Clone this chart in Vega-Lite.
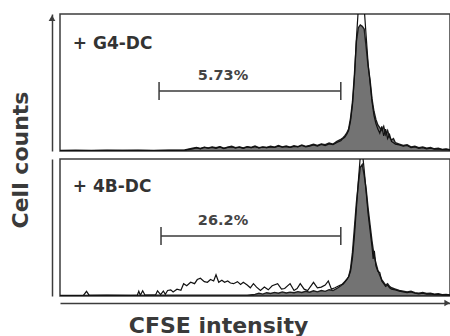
{
  "$schema": "https://vega.github.io/schema/vega-lite/v6.json",
  "background": "#ffffff",
  "padding": {"left": 9, "top": 13, "right": 0, "bottom": 0},
  "bounds": "flush",
  "data": {"values": [
    {"panel":1,"kind":"F","x":0,"count":0.4},{"panel":1,"kind":"F","x":4,"count":0.5},{"panel":1,"kind":"F","x":8,"count":0.4},{"panel":1,"kind":"F","x":12,"count":0.5},{"panel":1,"kind":"F","x":16,"count":0.4},{"panel":1,"kind":"F","x":20,"count":0.5},{"panel":1,"kind":"F","x":24,"count":0.4},{"panel":1,"kind":"F","x":28,"count":0.5},{"panel":1,"kind":"F","x":32,"count":0.8},
    {"panel":1,"kind":"F","x":34,"count":2.0},{"panel":1,"kind":"F","x":35,"count":2.6},{"panel":1,"kind":"F","x":36,"count":1.8},{"panel":1,"kind":"F","x":37,"count":2.8},{"panel":1,"kind":"F","x":38,"count":2.2},{"panel":1,"kind":"F","x":39,"count":3.0},{"panel":1,"kind":"F","x":40,"count":2.4},{"panel":1,"kind":"F","x":41,"count":3.2},{"panel":1,"kind":"F","x":42,"count":2.0},{"panel":1,"kind":"F","x":43,"count":2.8},{"panel":1,"kind":"F","x":44,"count":3.4},{"panel":1,"kind":"F","x":45,"count":2.4},{"panel":1,"kind":"F","x":46,"count":3.0},{"panel":1,"kind":"F","x":47,"count":2.2},{"panel":1,"kind":"F","x":48,"count":3.2},{"panel":1,"kind":"F","x":49,"count":2.6},{"panel":1,"kind":"F","x":50,"count":3.6},{"panel":1,"kind":"F","x":51,"count":2.4},{"panel":1,"kind":"F","x":52,"count":3.0},{"panel":1,"kind":"F","x":53,"count":2.6},{"panel":1,"kind":"F","x":54,"count":3.4},{"panel":1,"kind":"F","x":55,"count":2.8},{"panel":1,"kind":"F","x":56,"count":4.0},{"panel":1,"kind":"F","x":57,"count":3.0},{"panel":1,"kind":"F","x":58,"count":3.6},{"panel":1,"kind":"F","x":59,"count":2.8},{"panel":1,"kind":"F","x":60,"count":3.8},{"panel":1,"kind":"F","x":61,"count":3.2},{"panel":1,"kind":"F","x":62,"count":4.4},{"panel":1,"kind":"F","x":63,"count":3.4},{"panel":1,"kind":"F","x":64,"count":4.0},{"panel":1,"kind":"F","x":65,"count":5.0},{"panel":1,"kind":"F","x":66,"count":4.0},{"panel":1,"kind":"F","x":67,"count":5.2},{"panel":1,"kind":"F","x":68,"count":4.6},{"panel":1,"kind":"F","x":69,"count":5.8},{"panel":1,"kind":"F","x":70,"count":5.0},{"panel":1,"kind":"F","x":71,"count":7.0},{"panel":1,"kind":"F","x":72,"count":8.5},{"panel":1,"kind":"F","x":72.5,"count":9.5},{"panel":1,"kind":"F","x":73,"count":11},{"panel":1,"kind":"F","x":73.5,"count":13},{"panel":1,"kind":"F","x":74,"count":16},{"panel":1,"kind":"F","x":74.5,"count":24},{"panel":1,"kind":"F","x":75,"count":36},{"panel":1,"kind":"F","x":75.5,"count":56},{"panel":1,"kind":"F","x":76,"count":80},{"panel":1,"kind":"F","x":76.5,"count":90},{"panel":1,"kind":"F","x":77,"count":92},{"panel":1,"kind":"F","x":77.5,"count":91},{"panel":1,"kind":"F","x":78,"count":89},{"panel":1,"kind":"F","x":78.5,"count":76},{"panel":1,"kind":"F","x":79,"count":62},{"panel":1,"kind":"F","x":79.5,"count":52},{"panel":1,"kind":"F","x":80,"count":38},{"panel":1,"kind":"F","x":80.5,"count":29},{"panel":1,"kind":"F","x":81,"count":23},{"panel":1,"kind":"F","x":81.5,"count":19},{"panel":1,"kind":"F","x":82,"count":17},{"panel":1,"kind":"F","x":82.5,"count":15},{"panel":1,"kind":"F","x":83,"count":18},{"panel":1,"kind":"F","x":83.5,"count":12},{"panel":1,"kind":"F","x":84,"count":15},{"panel":1,"kind":"F","x":84.5,"count":10},{"panel":1,"kind":"F","x":85,"count":8},{"panel":1,"kind":"F","x":85.5,"count":9},{"panel":1,"kind":"F","x":86,"count":6},{"panel":1,"kind":"F","x":87,"count":5},{"panel":1,"kind":"F","x":88,"count":4},{"panel":1,"kind":"F","x":89,"count":4.5},{"panel":1,"kind":"F","x":90,"count":3},{"panel":1,"kind":"F","x":91,"count":3.5},{"panel":1,"kind":"F","x":92,"count":2.5},{"panel":1,"kind":"F","x":93,"count":3},{"panel":1,"kind":"F","x":94,"count":2},{"panel":1,"kind":"F","x":95,"count":2.5},{"panel":1,"kind":"F","x":96,"count":1.6},{"panel":1,"kind":"F","x":97,"count":2},{"panel":1,"kind":"F","x":98,"count":1.2},{"panel":1,"kind":"F","x":99,"count":1.5},{"panel":1,"kind":"F","x":100,"count":1},

    {"panel":1,"kind":"O","x":0,"count":0.3},{"panel":1,"kind":"O","x":8,"count":0.3},{"panel":1,"kind":"O","x":16,"count":0.4},{"panel":1,"kind":"O","x":24,"count":0.3},{"panel":1,"kind":"O","x":32,"count":0.6},{"panel":1,"kind":"O","x":34,"count":1.6},{"panel":1,"kind":"O","x":35,"count":2.2},{"panel":1,"kind":"O","x":36,"count":1.6},{"panel":1,"kind":"O","x":37,"count":2.6},{"panel":1,"kind":"O","x":38,"count":2.0},{"panel":1,"kind":"O","x":39,"count":2.6},{"panel":1,"kind":"O","x":40,"count":2.0},{"panel":1,"kind":"O","x":41,"count":3.0},{"panel":1,"kind":"O","x":42,"count":1.8},{"panel":1,"kind":"O","x":43,"count":2.6},{"panel":1,"kind":"O","x":44,"count":3.0},{"panel":1,"kind":"O","x":45,"count":2.2},{"panel":1,"kind":"O","x":46,"count":2.8},{"panel":1,"kind":"O","x":47,"count":2.0},{"panel":1,"kind":"O","x":48,"count":3.0},{"panel":1,"kind":"O","x":49,"count":2.4},{"panel":1,"kind":"O","x":50,"count":3.2},{"panel":1,"kind":"O","x":51,"count":2.2},{"panel":1,"kind":"O","x":52,"count":2.8},{"panel":1,"kind":"O","x":53,"count":2.4},{"panel":1,"kind":"O","x":54,"count":3.0},{"panel":1,"kind":"O","x":55,"count":2.6},{"panel":1,"kind":"O","x":56,"count":3.6},{"panel":1,"kind":"O","x":57,"count":2.8},{"panel":1,"kind":"O","x":58,"count":3.2},{"panel":1,"kind":"O","x":59,"count":2.6},{"panel":1,"kind":"O","x":60,"count":3.4},{"panel":1,"kind":"O","x":61,"count":3.0},{"panel":1,"kind":"O","x":62,"count":4.0},{"panel":1,"kind":"O","x":63,"count":3.0},{"panel":1,"kind":"O","x":64,"count":3.6},{"panel":1,"kind":"O","x":65,"count":4.4},{"panel":1,"kind":"O","x":66,"count":3.6},{"panel":1,"kind":"O","x":67,"count":4.8},{"panel":1,"kind":"O","x":68,"count":4.0},{"panel":1,"kind":"O","x":69,"count":5.2},{"panel":1,"kind":"O","x":70,"count":4.6},{"panel":1,"kind":"O","x":71,"count":6.2},{"panel":1,"kind":"O","x":72,"count":7.5},{"panel":1,"kind":"O","x":72.5,"count":9},{"panel":1,"kind":"O","x":73,"count":10},{"panel":1,"kind":"O","x":73.5,"count":12},{"panel":1,"kind":"O","x":74,"count":15},{"panel":1,"kind":"O","x":74.5,"count":22},{"panel":1,"kind":"O","x":75,"count":34},{"panel":1,"kind":"O","x":75.5,"count":54},{"panel":1,"kind":"O","x":76,"count":82},{"panel":1,"kind":"O","x":76.5,"count":104},{"panel":1,"kind":"O","x":77,"count":112},{"panel":1,"kind":"O","x":77.5,"count":110},{"panel":1,"kind":"O","x":78,"count":104},{"panel":1,"kind":"O","x":78.5,"count":84},{"panel":1,"kind":"O","x":79,"count":64},{"panel":1,"kind":"O","x":79.5,"count":50},{"panel":1,"kind":"O","x":80,"count":36},{"panel":1,"kind":"O","x":80.5,"count":26},{"panel":1,"kind":"O","x":81,"count":20},{"panel":1,"kind":"O","x":81.5,"count":16},{"panel":1,"kind":"O","x":82,"count":13},{"panel":1,"kind":"O","x":82.5,"count":18},{"panel":1,"kind":"O","x":83,"count":11},{"panel":1,"kind":"O","x":83.5,"count":16},{"panel":1,"kind":"O","x":84,"count":9},{"panel":1,"kind":"O","x":84.5,"count":12},{"panel":1,"kind":"O","x":85,"count":7},{"panel":1,"kind":"O","x":85.5,"count":6},{"panel":1,"kind":"O","x":86,"count":5},{"panel":1,"kind":"O","x":87,"count":4.5},{"panel":1,"kind":"O","x":88,"count":3.5},{"panel":1,"kind":"O","x":89,"count":4},{"panel":1,"kind":"O","x":90,"count":2.5},{"panel":1,"kind":"O","x":91,"count":3},{"panel":1,"kind":"O","x":92,"count":2},{"panel":1,"kind":"O","x":93,"count":2.5},{"panel":1,"kind":"O","x":94,"count":1.6},{"panel":1,"kind":"O","x":95,"count":2},{"panel":1,"kind":"O","x":96,"count":1.4},{"panel":1,"kind":"O","x":97,"count":1.6},{"panel":1,"kind":"O","x":98,"count":1},{"panel":1,"kind":"O","x":99,"count":1.2},{"panel":1,"kind":"O","x":100,"count":0.8},

    {"panel":2,"kind":"F","x":0,"count":0.4},{"panel":2,"kind":"F","x":6,"count":0.4},{"panel":2,"kind":"F","x":12,"count":0.5},{"panel":2,"kind":"F","x":18,"count":0.4},{"panel":2,"kind":"F","x":24,"count":0.5},{"panel":2,"kind":"F","x":30,"count":0.5},{"panel":2,"kind":"F","x":36,"count":0.6},{"panel":2,"kind":"F","x":42,"count":0.5},{"panel":2,"kind":"F","x":48,"count":0.6},{"panel":2,"kind":"F","x":50,"count":1.2},{"panel":2,"kind":"F","x":51,"count":2.0},{"panel":2,"kind":"F","x":52,"count":1.4},{"panel":2,"kind":"F","x":53,"count":2.4},{"panel":2,"kind":"F","x":54,"count":1.8},{"panel":2,"kind":"F","x":55,"count":2.6},{"panel":2,"kind":"F","x":56,"count":2.0},{"panel":2,"kind":"F","x":57,"count":3.0},{"panel":2,"kind":"F","x":58,"count":2.2},{"panel":2,"kind":"F","x":59,"count":2.8},{"panel":2,"kind":"F","x":60,"count":2.4},{"panel":2,"kind":"F","x":61,"count":3.2},{"panel":2,"kind":"F","x":62,"count":2.6},{"panel":2,"kind":"F","x":63,"count":3.4},{"panel":2,"kind":"F","x":64,"count":2.8},{"panel":2,"kind":"F","x":65,"count":3.8},{"panel":2,"kind":"F","x":66,"count":3.0},{"panel":2,"kind":"F","x":67,"count":4.0},{"panel":2,"kind":"F","x":68,"count":3.4},{"panel":2,"kind":"F","x":69,"count":4.6},{"panel":2,"kind":"F","x":70,"count":4.0},{"panel":2,"kind":"F","x":71,"count":5.5},{"panel":2,"kind":"F","x":72,"count":7.5},{"panel":2,"kind":"F","x":72.5,"count":9},{"panel":2,"kind":"F","x":73,"count":10.5},{"panel":2,"kind":"F","x":73.5,"count":12},{"panel":2,"kind":"F","x":74,"count":14},{"panel":2,"kind":"F","x":74.5,"count":20},{"panel":2,"kind":"F","x":75,"count":32},{"panel":2,"kind":"F","x":75.5,"count":50},{"panel":2,"kind":"F","x":76,"count":68},{"panel":2,"kind":"F","x":76.5,"count":82},{"panel":2,"kind":"F","x":77,"count":94},{"panel":2,"kind":"F","x":77.5,"count":96},{"panel":2,"kind":"F","x":78,"count":88},{"panel":2,"kind":"F","x":78.5,"count":78},{"panel":2,"kind":"F","x":79,"count":64},{"panel":2,"kind":"F","x":79.5,"count":52},{"panel":2,"kind":"F","x":80,"count":40},{"panel":2,"kind":"F","x":80.5,"count":30},{"panel":2,"kind":"F","x":81,"count":24},{"panel":2,"kind":"F","x":81.5,"count":19},{"panel":2,"kind":"F","x":82,"count":15},{"panel":2,"kind":"F","x":82.5,"count":12},{"panel":2,"kind":"F","x":83,"count":10},{"panel":2,"kind":"F","x":83.5,"count":8},{"panel":2,"kind":"F","x":84,"count":9},{"panel":2,"kind":"F","x":84.5,"count":7},{"panel":2,"kind":"F","x":85,"count":6},{"panel":2,"kind":"F","x":86,"count":5},{"panel":2,"kind":"F","x":87,"count":4},{"panel":2,"kind":"F","x":88,"count":3.5},{"panel":2,"kind":"F","x":89,"count":3},{"panel":2,"kind":"F","x":90,"count":3.5},{"panel":2,"kind":"F","x":91,"count":2.5},{"panel":2,"kind":"F","x":92,"count":2},{"panel":2,"kind":"F","x":93,"count":2.5},{"panel":2,"kind":"F","x":94,"count":1.8},{"panel":2,"kind":"F","x":95,"count":2},{"panel":2,"kind":"F","x":96,"count":1.4},{"panel":2,"kind":"F","x":97,"count":1.6},{"panel":2,"kind":"F","x":98,"count":1},{"panel":2,"kind":"F","x":99,"count":1.2},{"panel":2,"kind":"F","x":100,"count":0.8},

    {"panel":2,"kind":"O","x":0,"count":0.3},{"panel":2,"kind":"O","x":6,"count":0.4},{"panel":2,"kind":"O","x":6.8,"count":3.4},{"panel":2,"kind":"O","x":7.5,"count":0.4},{"panel":2,"kind":"O","x":14,"count":0.4},{"panel":2,"kind":"O","x":19.8,"count":0.4},{"panel":2,"kind":"O","x":20.2,"count":3.5},{"panel":2,"kind":"O","x":20.6,"count":0.5},{"panel":2,"kind":"O","x":21.2,"count":3.8},{"panel":2,"kind":"O","x":21.8,"count":0.6},{"panel":2,"kind":"O","x":24.5,"count":0.8},{"panel":2,"kind":"O","x":25,"count":3.8},{"panel":2,"kind":"O","x":25.8,"count":1.0},{"panel":2,"kind":"O","x":26.5,"count":3.6},{"panel":2,"kind":"O","x":27,"count":1.2},{"panel":2,"kind":"O","x":27.6,"count":4.0},{"panel":2,"kind":"O","x":28.4,"count":4.5},{"panel":2,"kind":"O","x":29,"count":3.0},{"panel":2,"kind":"O","x":30,"count":5.0},{"panel":2,"kind":"O","x":31,"count":4.2},{"panel":2,"kind":"O","x":31.7,"count":9},{"panel":2,"kind":"O","x":32.5,"count":7.5},{"panel":2,"kind":"O","x":33.5,"count":10},{"panel":2,"kind":"O","x":34.5,"count":9},{"panel":2,"kind":"O","x":35.2,"count":12},{"panel":2,"kind":"O","x":36,"count":13},{"panel":2,"kind":"O","x":37,"count":10.5},{"panel":2,"kind":"O","x":37.8,"count":10},{"panel":2,"kind":"O","x":38.6,"count":12},{"panel":2,"kind":"O","x":39.4,"count":11},{"panel":2,"kind":"O","x":40,"count":15.5},{"panel":2,"kind":"O","x":40.7,"count":10},{"panel":2,"kind":"O","x":41.5,"count":11.5},{"panel":2,"kind":"O","x":42.2,"count":10},{"panel":2,"kind":"O","x":43,"count":11},{"panel":2,"kind":"O","x":43.7,"count":9.5},{"panel":2,"kind":"O","x":44.5,"count":9},{"panel":2,"kind":"O","x":45.5,"count":10.5},{"panel":2,"kind":"O","x":46.3,"count":8.5},{"panel":2,"kind":"O","x":47,"count":10},{"panel":2,"kind":"O","x":48,"count":8},{"panel":2,"kind":"O","x":48.8,"count":6},{"panel":2,"kind":"O","x":49.6,"count":9},{"panel":2,"kind":"O","x":50.4,"count":6.5},{"panel":2,"kind":"O","x":51.4,"count":4},{"panel":2,"kind":"O","x":52.4,"count":6.5},{"panel":2,"kind":"O","x":53.4,"count":4.5},{"panel":2,"kind":"O","x":54.4,"count":7.5},{"panel":2,"kind":"O","x":55.8,"count":9},{"panel":2,"kind":"O","x":56.8,"count":5},{"panel":2,"kind":"O","x":57.6,"count":5.5},{"panel":2,"kind":"O","x":59,"count":9},{"panel":2,"kind":"O","x":60,"count":4},{"panel":2,"kind":"O","x":60.8,"count":5.5},{"panel":2,"kind":"O","x":61.6,"count":9},{"panel":2,"kind":"O","x":62.6,"count":5},{"panel":2,"kind":"O","x":63.5,"count":4},{"panel":2,"kind":"O","x":65,"count":10},{"panel":2,"kind":"O","x":66,"count":6},{"panel":2,"kind":"O","x":67,"count":6.5},{"panel":2,"kind":"O","x":68,"count":8},{"panel":2,"kind":"O","x":68.8,"count":11},{"panel":2,"kind":"O","x":69.6,"count":5},{"panel":2,"kind":"O","x":70.5,"count":6},{"panel":2,"kind":"O","x":71.9,"count":8},{"panel":2,"kind":"O","x":72.5,"count":8.5},{"panel":2,"kind":"O","x":73,"count":10},{"panel":2,"kind":"O","x":73.5,"count":12},{"panel":2,"kind":"O","x":74,"count":14},{"panel":2,"kind":"O","x":74.5,"count":18},{"panel":2,"kind":"O","x":75,"count":28},{"panel":2,"kind":"O","x":75.5,"count":44},{"panel":2,"kind":"O","x":76,"count":64},{"panel":2,"kind":"O","x":76.5,"count":84},{"panel":2,"kind":"O","x":77,"count":102},{"panel":2,"kind":"O","x":77.5,"count":106},{"panel":2,"kind":"O","x":78,"count":92},{"panel":2,"kind":"O","x":78.5,"count":76},{"panel":2,"kind":"O","x":79,"count":60},{"panel":2,"kind":"O","x":79.5,"count":48},{"panel":2,"kind":"O","x":80,"count":36},{"panel":2,"kind":"O","x":80.3,"count":27},{"panel":2,"kind":"O","x":80.6,"count":33},{"panel":2,"kind":"O","x":81,"count":22},{"panel":2,"kind":"O","x":81.5,"count":18},{"panel":2,"kind":"O","x":82,"count":17},{"panel":2,"kind":"O","x":82.5,"count":11},{"panel":2,"kind":"O","x":83,"count":9},{"panel":2,"kind":"O","x":83.5,"count":7},{"panel":2,"kind":"O","x":84,"count":8},{"panel":2,"kind":"O","x":84.5,"count":6},{"panel":2,"kind":"O","x":85,"count":5},{"panel":2,"kind":"O","x":86,"count":4.5},{"panel":2,"kind":"O","x":87,"count":3.5},{"panel":2,"kind":"O","x":88,"count":3},{"panel":2,"kind":"O","x":89,"count":2.5},{"panel":2,"kind":"O","x":90,"count":3},{"panel":2,"kind":"O","x":91,"count":2},{"panel":2,"kind":"O","x":92,"count":1.6},{"panel":2,"kind":"O","x":93,"count":2},{"panel":2,"kind":"O","x":94,"count":1.4},{"panel":2,"kind":"O","x":95,"count":1.6},{"panel":2,"kind":"O","x":96,"count":1},{"panel":2,"kind":"O","x":97,"count":1.2},{"panel":2,"kind":"O","x":98,"count":0.8},{"panel":2,"kind":"O","x":99,"count":1},{"panel":2,"kind":"O","x":100,"count":0.6},

    {"panel":1,"kind":"gate","x":25.4,"count":43.8},{"panel":1,"kind":"gate","x":72,"count":43.8},
    {"panel":2,"kind":"gate","x":25.9,"count":43.8},{"panel":2,"kind":"gate","x":72,"count":43.8},
    {"panel":1,"kind":"label","x":3.3,"count":78,"text":"+ G4-DC"},
    {"panel":2,"kind":"label","x":3.3,"count":79.5,"text":"+ 4B-DC"},
    {"panel":1,"kind":"pct","x":41.8,"count":54.7,"text":"5.73%"},
    {"panel":2,"kind":"pct","x":41.8,"count":54.7,"text":"26.2%"},
    {"panel":1,"kind":"yarrow"},
    {"panel":2,"kind":"xarrow"}
  ]},
  "spacing": {"row": 8, "column": 8},
  "facet": {
    "row": {
      "field": "panel",
      "type": "ordinal",
      "header": {
        "title": "Cell counts",
        "labels": false,
        "titleFont": "DejaVu Sans",
        "titleFontSize": 22,
        "titleFontWeight": "bold",
        "titleColor": "#3a3a3a",
        "titlePadding": 9
      }
    }
  },
  "spec": {
    "width": 390,
    "height": 137,
    "layer": [
      {
        "transform": [{"filter": "datum.kind === 'F'"}],
        "mark": {"type": "area", "fill": "#737373", "stroke": "#1e1e1e", "strokeWidth": 1.4, "clip": true},
        "encoding": {
          "x": {"field": "x", "type": "quantitative", "scale": {"domain": [0, 100], "nice": false}, "axis": {"title": "CFSE intensity"}},
          "y": {"field": "count", "type": "quantitative", "scale": {"domain": [0, 100], "nice": false}, "axis": {"title": null}}
        }
      },
      {
        "transform": [{"filter": "datum.kind === 'O'"}],
        "mark": {"type": "line", "stroke": "#111111", "strokeWidth": 1.2, "clip": true},
        "encoding": {
          "x": {"field": "x", "type": "quantitative"},
          "y": {"field": "count", "type": "quantitative"}
        }
      },
      {
        "transform": [{"filter": "datum.kind === 'gate'"}],
        "mark": {"type": "line", "stroke": "#3a3a3a", "strokeWidth": 1.5},
        "encoding": {
          "x": {"field": "x", "type": "quantitative"},
          "y": {"field": "count", "type": "quantitative"}
        }
      },
      {
        "transform": [{"filter": "datum.kind === 'gate'"}],
        "mark": {"type": "tick", "orient": "vertical", "color": "#3a3a3a", "size": 18, "thickness": 1.5, "opacity": 1},
        "encoding": {
          "x": {"field": "x", "type": "quantitative"},
          "y": {"field": "count", "type": "quantitative"}
        }
      },
      {
        "transform": [{"filter": "datum.kind === 'label'"}],
        "mark": {"type": "text", "align": "left", "font": "DejaVu Sans", "fontSize": 17, "fontWeight": "bold", "color": "#333333"},
        "encoding": {
          "x": {"field": "x", "type": "quantitative"},
          "y": {"field": "count", "type": "quantitative"},
          "text": {"field": "text"}
        }
      },
      {
        "transform": [{"filter": "datum.kind === 'pct'"}],
        "mark": {"type": "text", "align": "center", "font": "DejaVu Sans", "fontSize": 14.5, "fontWeight": "bold", "color": "#444444"},
        "encoding": {
          "x": {"field": "x", "type": "quantitative"},
          "y": {"field": "count", "type": "quantitative"},
          "text": {"field": "text"}
        }
      },
      {
        "transform": [{"filter": "datum.kind === 'yarrow'"}],
        "mark": {"type": "point", "shape": "triangle-up", "filled": true, "color": "#3c3c3c", "size": 45, "opacity": 1},
        "encoding": {
          "x": {"datum": -2.05, "type": "quantitative"},
          "y": {"datum": 97, "type": "quantitative"}
        }
      },
      {
        "transform": [{"filter": "datum.kind === 'xarrow'"}],
        "mark": {"type": "point", "shape": "triangle-right", "filled": true, "color": "#3c3c3c", "size": 45, "opacity": 1},
        "encoding": {
          "x": {"datum": 99.3, "type": "quantitative"},
          "y": {"datum": -5.1, "type": "quantitative"}
        }
      }
    ]
  },
  "config": {
    "view": {"stroke": "#3c3c3c", "strokeWidth": 1.5},
    "facet": {"spacing": 8},
    "axisX": {
      "labels": false, "ticks": false, "grid": false,
      "domainColor": "#3c3c3c", "domainWidth": 1.5, "offset": 7,
      "titleFont": "DejaVu Sans", "titleFontSize": 22, "titleFontWeight": "bold", "titleColor": "#3a3a3a",
      "titlePadding": 12, "titleX": 158
    },
    "axisY": {
      "labels": false, "ticks": false, "grid": false,
      "domainColor": "#3c3c3c", "domainWidth": 1.5, "offset": 8
    }
  }
}
